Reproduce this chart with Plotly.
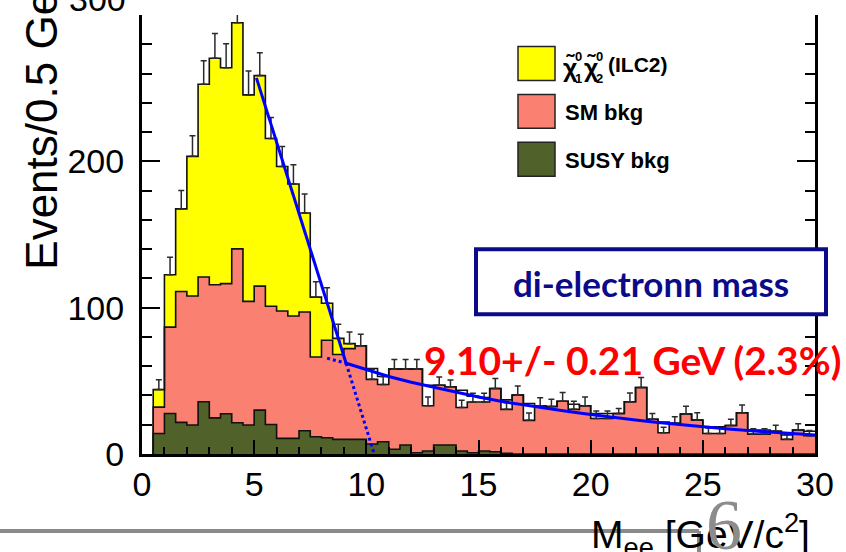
import numpy as np
import plotly.graph_objects as go

# ---- histogram content: 0.5 GeV bins from 0.5 to 30 GeV ----
bin_width = 0.5
first_edge = 0.5

# pseudo-data (signal + background), events per bin
data_counts = [44, 122.5, 167.5, 203.4, 252.7, 270.4, 264, 294.7, 245.4, 258.6,
               215.6, 196.5, 184.5, 164.7, 107.2, 103, 79, 75.4, 74, 51,
               47.5, 58, 58, 58, 33, 47, 46, 31.8, 35.5, 35.5,
               44.8, 30.5, 40.2, 23, 33, 32.5, 36, 30.5, 33, 24.3,
               24.3, 27.7, 35.7, 45.4, 23.7, 14.5, 21, 27.3, 23.2, 14,
               14, 19.5, 28.2, 13.6, 13.6, 15.5, 10, 16.4, 12.5]

# statistical error on the pseudo-data (upper whisker)
data_err = [6.8, 12, 12.5, 14, 16, 17, 16.4, 17, 16.4, 15.6,
            14.3, 13.7, 13.2, 13, 10.5, 10.6, 9.6, 8, 7.8, 7,
            5.5, 6.5, 6.5, 6.5, 6, 5.7, 4.5, 5, 6, 6,
            6.8, 4.5, 6.2, 5, 5.5, 5, 6, 5.5, 6, 5,
            5, 3.4, 6, 6.9, 4, 3.8, 4.4, 5.4, 5, 3.8,
            3.8, 4.2, 5.2, 3.7, 3.7, 4.1, 3.2, 4.3, 3.5]

# Standard Model background
sm_bkg = [18, 59, 89.4, 88.2, 85.3, 91, 88.9, 118.8, 84.5, 84.7,
          80.8, 87, 83.6, 81.1, 54.5, 66.6, 58, 62, 64, 51.6,
          44.6, 54.8, 51.9, 57.1, 45, 40.9, 39.9, 41.6, 38.6, 36.6,
          43.3, 36.5, 40.2, 34.5, 33, 32.5, 36, 34, 33, 27.7,
          27.7, 27.7, 35.7, 45.4, 23.7, 21.8, 21, 27.3, 23.2, 18.6,
          18.6, 19.5, 28.2, 16.4, 16.4, 15.5, 13, 16.4, 15.5]

# SUSY background
susy_bkg = [14, 27.7, 21.6, 19.8, 35.7, 24.7, 27.5, 21.4, 19.8, 30,
            20.2, 10.7, 10.7, 15.9, 11.8, 11.1, 10, 10, 10, 6.8,
            8.4, 3.2, 6.1, 0.9, 2, 6.1, 6.1, 2, 0.9, 2,
            1.5, 0.5, 0, 0, 0, 0, 0, 0, 0, 0,
            0, 0, 0, 0, 0, 0, 0, 0, 0, 0,
            0, 0, 0, 0, 0, 0, 0, 0, 0]

# edge fit: straight line on the falling edge
edge_x = [5.1, 9.1]
edge_y = [257, 62]
edge_ext_x = [9.1, 10.35]
edge_ext_y = [62, 0]

# background shape under the edge
bkg_fit_x = [9.1, 10, 11, 12, 13, 14, 15, 16, 17, 18, 19, 20, 21, 22, 23, 24, 25, 26, 27, 28, 29, 30]
bkg_fit_y = [62, 57.5, 53, 49, 45.5, 42.3, 39, 36, 33.5, 31, 29, 27, 25, 23.3, 21.6, 20, 18.6, 17.3, 16, 15, 14, 13]
bkg_ext_x = [8.25, 9.1]
bkg_ext_y = [65.5, 62]

y_tick_vals = [0, 100, 200, 300]
x_tick_vals = [0, 5, 10, 15, 20, 25, 30]

# ---- derived histogram quantities ----
n = len(data_counts)
edges = first_edge + bin_width * np.arange(n + 1)
centers = edges[:-1] + bin_width / 2
data = np.array(data_counts, dtype=float)
susy = np.array(susy_bkg, dtype=float)
bkg_top = susy + np.array(sm_bkg, dtype=float)

signal_part = np.clip(data - bkg_top, 0, None)
salmon_top = np.minimum(data, bkg_top)

YELLOW = "#ffff00"
SALMON = "#fa8072"
GREEN = "#50622a"
NAVY = "#0b0b8a"

fig = go.Figure()

# filled layers
fig.add_trace(go.Bar(x=centers, y=signal_part, base=bkg_top, width=bin_width,
                     marker=dict(color=YELLOW, line=dict(width=0)), showlegend=False))
fig.add_trace(go.Bar(x=centers, y=salmon_top - susy, base=susy, width=bin_width,
                     marker=dict(color=SALMON, line=dict(width=0)), showlegend=False))
fig.add_trace(go.Bar(x=centers, y=susy, base=0, width=bin_width,
                     marker=dict(color=GREEN, line=dict(width=0)), showlegend=False))


def step_outline(values):
    xs = [edges[0]] + list(edges[:-1]) + [edges[-1]]
    ys = [0] + list(values) + [values[-1]]
    return xs, ys


for vals in (susy, bkg_top, data):
    sx, sy = step_outline(vals)
    fig.add_trace(go.Scatter(x=sx, y=sy, mode="lines", line=dict(color="#111111", width=1.6, shape="hv"),
                             showlegend=False, hoverinfo="skip"))

# error bars on the pseudo-data
fig.add_trace(go.Scatter(x=centers, y=data, mode="markers", marker=dict(size=1, color="rgba(0,0,0,0)"),
                         error_y=dict(type="data", symmetric=False, array=data_err,
                                      arrayminus=[0] * n, color="#2a2a2a", thickness=1.5, width=3),
                         showlegend=False))

# fit lines
fig.add_trace(go.Scatter(x=edge_ext_x, y=edge_ext_y, mode="lines",
                         line=dict(color="#0000ff", width=3, dash="dot"), showlegend=False))
fig.add_trace(go.Scatter(x=bkg_ext_x, y=bkg_ext_y, mode="lines",
                         line=dict(color="#0000ff", width=3, dash="dot"), showlegend=False))
fig.add_trace(go.Scatter(x=bkg_fit_x, y=bkg_fit_y, mode="lines",
                         line=dict(color="#0000ff", width=3), showlegend=False))
fig.add_trace(go.Scatter(x=edge_x, y=edge_y, mode="lines",
                         line=dict(color="#0000ff", width=3), showlegend=False))

# ---- page geometry helpers (pixel -> paper) ----
L, R, T, B = 142, 815, 14.5, 454
W, H = 846, 552


def px(xp):
    return (xp - L) / (R - L)


def py(yp):
    return (B - yp) / (B - T)


shapes = []
annotations = []


def note(x, y, text, size, family="Liberation Sans", color="black", xanchor="left", yanchor="middle", **kw):
    annotations.append(dict(xref="paper", yref="paper", x=px(x), y=py(y), xanchor=xanchor, yanchor=yanchor,
                            text=text, showarrow=False, font=dict(family=family, size=size, color=color), **kw))


# legend
legend_items = [(YELLOW, 46, 80), (SALMON, 94, 128), (GREEN, 142, 176)]
for col, y0, y1 in legend_items:
    shapes.append(dict(type="rect", xref="paper", yref="paper", x0=px(518), x1=px(555),
                       y0=py(y1), y1=py(y0), fillcolor=col, line=dict(color="#222", width=1.5)))

note(561, 68, "<b>χ̃</b>", 25)
note(573, 56, "<b>0</b>", 13)
note(573, 78, "<b>1</b>", 13)
note(582, 68, "<b>χ̃</b>", 25)
note(594, 56, "<b>0</b>", 13)
note(594, 78, "<b>2</b>", 13)
note(606, 64, "<b>(ILC2)</b>", 21)
note(563, 112, "<b>SM bkg</b>", 22)
note(563, 160, "<b>SUSY bkg</b>", 22)

# boxed caption
shapes.append(dict(type="rect", xref="paper", yref="paper", x0=px(476), x1=px(826), y0=py(314), y1=py(249),
                   fillcolor="white", line=dict(color=NAVY, width=4)))
note(651, 283, "<b>di-electronn mass</b>", 35, family="Lato", color=NAVY, xanchor="center")

# fitted edge result
note(422, 360, "<b>9.10+/- 0.21 GeV (2.3%)</b>", 39, family="Lato", color="#ff0000")

# top tick label, partly above the page
note(128, -2, "300", 34, xanchor="right")

# axis titles
note(42, 272, "Events/0.5 GeV", 44, xanchor="center", yanchor="bottom", textangle=-90)
note(812, 535, "M<sub>ee</sub> [GeV/c<sup>2</sup>]", 39, xanchor="right")

# slide decoration: rule and page number
shapes.append(dict(type="line", xref="paper", yref="paper", x0=px(0), x1=px(699), y0=py(531), y1=py(531),
                   line=dict(color="#8a8a8a", width=4)))
shapes.append(dict(type="line", xref="paper", yref="paper", x0=px(699), x1=px(699), y0=py(531), y1=py(560),
                   line=dict(color="#8a8a8a", width=4)))
note(724, 525, "6", 72, family="Liberation Serif", color="#8c8c8c", xanchor="center")

fig.update_layout(
    width=W, height=H,
    margin=dict(l=L, r=W - R, t=T, b=H - B, pad=0),
    paper_bgcolor="white", plot_bgcolor="white",
    barmode="overlay", bargap=0, showlegend=False,
    shapes=shapes, annotations=annotations,
    xaxis=dict(range=[0, 30], tickvals=x_tick_vals, ticks="inside", ticklen=14,
               tickwidth=2, tickcolor="black", showline=True, linewidth=3, linecolor="black",
               showgrid=False, zeroline=False, mirror=False,
               minor=dict(dtick=1, ticks="inside", ticklen=7, tickwidth=2, tickcolor="black"),
               tickfont=dict(family="Liberation Sans", size=34, color="black"), ticklabelstandoff=-2),
    yaxis=dict(range=[0, 300], tickvals=y_tick_vals, ticktext=["0", "100", "200", ""],
               ticks="inside", ticklen=18,
               tickwidth=2, tickcolor="black", showline=True, linewidth=3, linecolor="black",
               showgrid=False, zeroline=False, mirror="ticks",
               minor=dict(dtick=20, ticks="inside", ticklen=10, tickwidth=2, tickcolor="black"),
               tickfont=dict(family="Liberation Sans", size=34, color="black"), ticklabelstandoff=8),
)

fig.write_html("out.html")
